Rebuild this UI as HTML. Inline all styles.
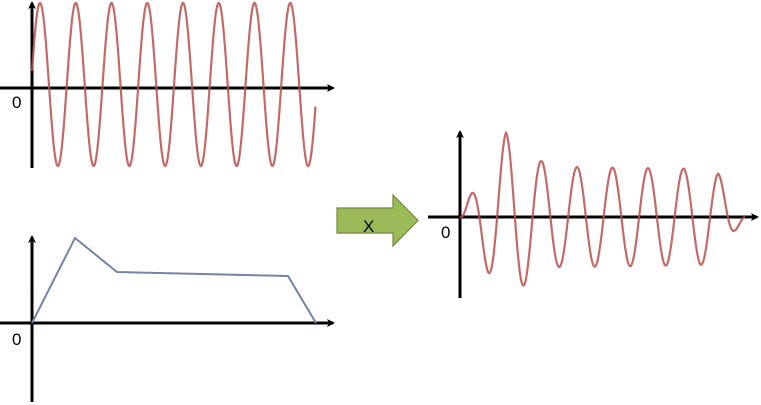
<!DOCTYPE html>
<html><head><meta charset="utf-8"><style>html,body{margin:0;padding:0;background:#fff}svg{display:block}</style></head>
<body>
<svg id="s" width="761" height="405" xmlns="http://www.w3.org/2000/svg" font-family="Liberation Sans, sans-serif">
<defs><marker id="a" markerWidth="8" markerHeight="8" refX="6" refY="4" orient="auto" markerUnits="userSpaceOnUse"><path d="M0,0 L8,4 L0,8 L2,4 Z" fill="#000"/></marker></defs>
<line x1="0" y1="88" x2="333" y2="88" stroke="#000" stroke-width="3" marker-end="url(#a)"/>
<line x1="32" y1="168" x2="32" y2="3" stroke="#000" stroke-width="3" marker-end="url(#a)"/>
<text x="12" y="108" font-size="17" fill="#000">0</text>
<path id="w1" fill="none" stroke="#b8504d" stroke-opacity="0.85" stroke-width="2.2"/>
<line x1="0" y1="323" x2="333" y2="323" stroke="#000" stroke-width="3" marker-end="url(#a)"/>
<line x1="32" y1="402" x2="32" y2="237" stroke="#000" stroke-width="3" marker-end="url(#a)"/>
<text x="12" y="345" font-size="17" fill="#000">0</text>
<polyline points="32,323 75,238 117,272 288,276 316,323" fill="none" stroke="#7384a4" stroke-width="2"/>
<path d="M337,208 L393,208 L393,195 L418,220.5 L393,246 L393,233 L337,233 Z" fill="#9bbb59" stroke="#71893f" stroke-width="1.2"/>
<text x="363" y="232" font-size="17" fill="#000">X</text>
<line x1="428" y1="217" x2="757" y2="217" stroke="#000" stroke-width="3" marker-end="url(#a)"/>
<line x1="460" y1="298" x2="460" y2="132" stroke="#000" stroke-width="3" marker-end="url(#a)"/>
<text x="441" y="238" font-size="17" fill="#000">0</text>
<path id="w2" fill="none" stroke="#b8504d" stroke-opacity="0.85" stroke-width="2.2"/>
</svg>
<script>
(function(){
var d="";for(var x=32;x<=315.5;x+=0.5){var y=84.5-81.5*Math.cos(2*Math.PI*(x-40)/35.75);d+=(d?"L":"M")+x.toFixed(1)+","+y.toFixed(1);}
document.getElementById("w1").setAttribute("d",d);
var env=[[460,0],[470,21],[488,55],[506,84],[523,69],[541,56],[558,50],[576,50],[700,48],[718,44],[735,14],[745,0]];
function A(x){for(var i=0;i<env.length-1;i++){var a=env[i],b=env[i+1];if(x>=a[0]&&x<=b[0]){return a[1]+(b[1]-a[1])*(x-a[0])/(b[0]-a[0]);}}return 0;}
d="";for(var x=460;x<=745;x+=0.5){var y=217-A(x)*Math.cos(2*Math.PI*(x-506)/35.5);d+=(d?"L":"M")+x.toFixed(1)+","+y.toFixed(1);}
document.getElementById("w2").setAttribute("d",d);
})();
</script>
</body></html>
